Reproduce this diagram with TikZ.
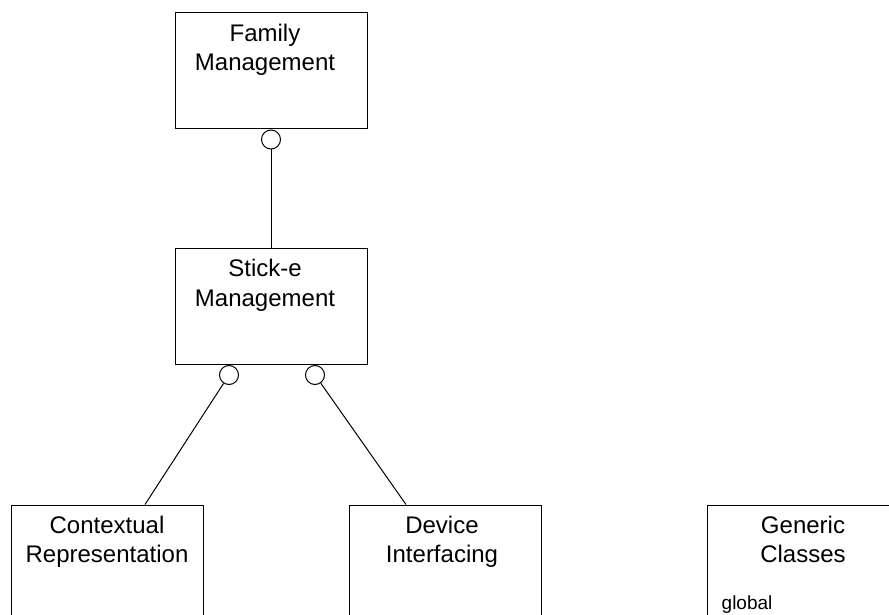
\documentclass[tikz,border=0pt]{standalone}
\usepackage{fontspec}
\setmainfont{Liberation Sans}
\usetikzlibrary{positioning}
\tikzset{
modbox/.style={rectangle,draw=black,line width=1pt,minimum width=192pt,minimum height=116pt,inner sep=0pt},
modtext/.style={inner sep=0pt,align=center,font=\fontsize{24}{29.5}\selectfont},
modnote/.style={inner sep=0pt,font=\fontsize{19}{23}\selectfont},
lolly/.style={circle,draw=black,line width=1pt,fill=white,minimum size=19pt,inner sep=0pt},
link/.style={line width=1pt}
}
\begin{document}
\begin{tikzpicture}[x=1pt,y=-1pt]
\useasboundingbox (0,0) rectangle (889,615);
\node[modbox] (fam) at (271,71) {};
\node[modtext,below=11pt of fam.north,xshift=-6pt] (famtxt) {Family\\Management};
\node[modbox] (stk) at (271,306.5) {};
\node[modtext,below=11pt of stk.north,xshift=-6pt] (stktxt) {Stick-e\\Management};
\node[modbox] (ctx) at (107,563) {};
\node[modtext,below=11pt of ctx.north] (ctxtxt) {Contextual\\Representation};
\node[modbox] (dev) at (445,563) {};
\node[modtext,below=11pt of dev.north,xshift=-3pt] (devtxt) {Device\\Interfacing};
\node[modbox] (gen) at (803,563) {};
\node[modtext,below=11pt of gen.north] (gentxt) {Generic\\Classes};
\node[modnote,anchor=base west] (genglobal) at ([xshift=15pt,yshift=-105pt]gen.north west) {global};
% interface circles
\node[lolly,anchor=north] (famport) at (fam.south) {};
\node[lolly,anchor=north] (stkleft) at ([xshift=-42pt]stk.south) {};
\node[lolly,anchor=north] (stkright) at ([xshift=44pt]stk.south) {};
\coordinate (ctxend) at ([xshift=38pt]ctx.north);
\coordinate (devend) at ([xshift=-39pt]dev.north);
\draw[link] (famport) -- (stk);
\draw[link] (stkleft) -- (ctxend);
\draw[link] (stkright) -- (devend);
\end{tikzpicture}
\end{document}
